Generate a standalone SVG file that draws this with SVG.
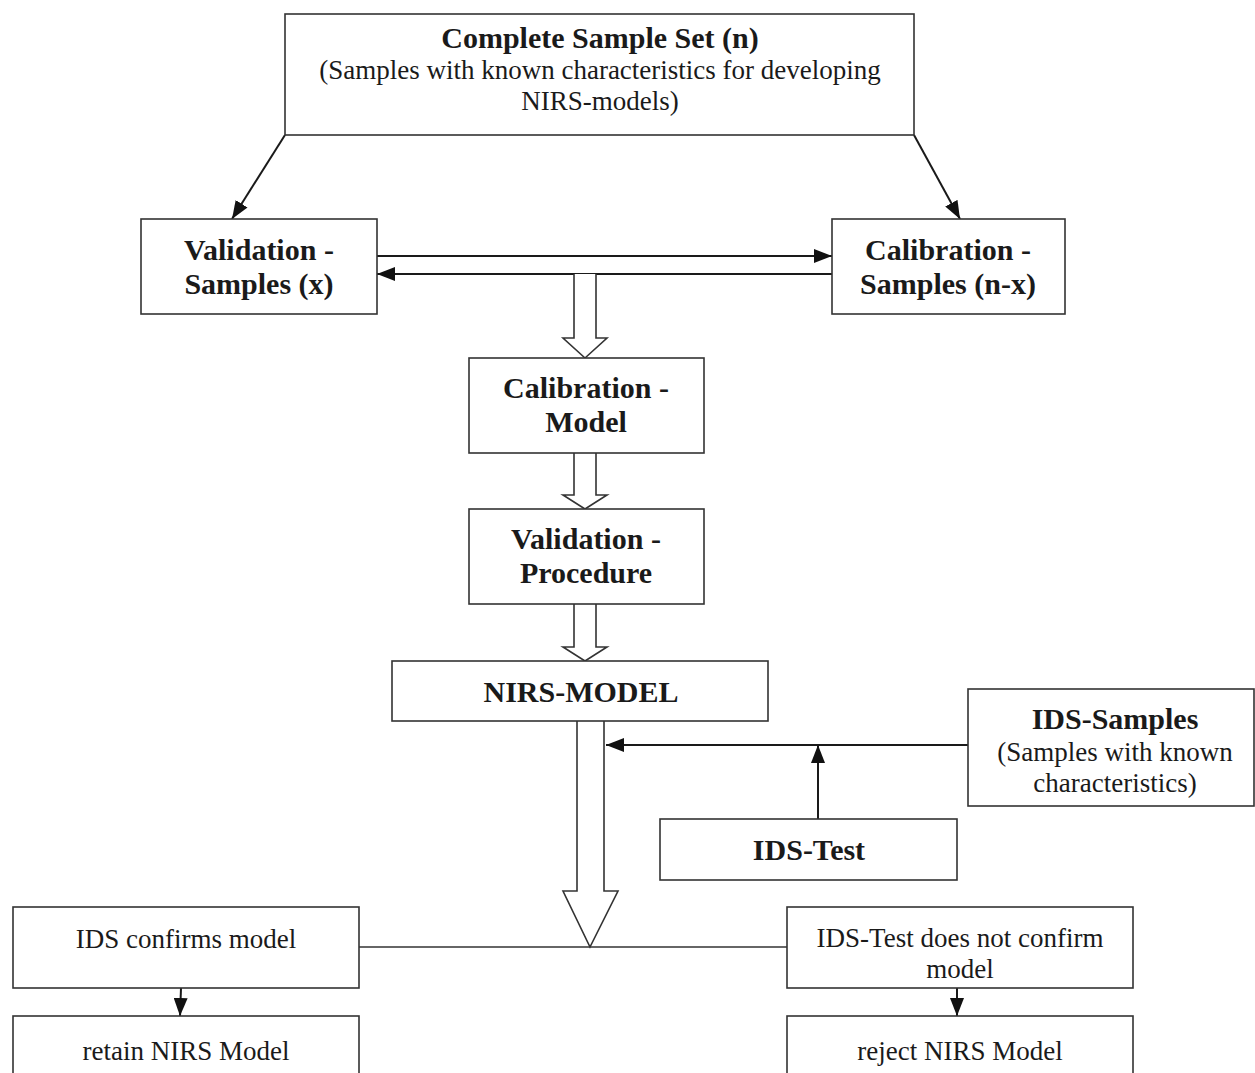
<svg xmlns="http://www.w3.org/2000/svg" width="1255" height="1073" viewBox="0 0 1255 1073">
<style>
.box{fill:#fff;stroke:#333;stroke-width:1.6}
.b{font-family:"Liberation Serif","Times New Roman",serif;font-weight:bold;font-size:30px;fill:#1a1a1a;text-anchor:middle}
.r{font-family:"Liberation Serif","Times New Roman",serif;font-size:27px;fill:#1a1a1a;text-anchor:middle}
.ln{stroke:#1a1a1a;stroke-width:2;fill:none}
.thin{stroke:#333;stroke-width:1.6;fill:none}
.hollow{fill:#fff;stroke:#333;stroke-width:1.6}
</style>
<defs>
<marker id="ah" viewBox="0 0 18 14" refX="18" refY="7" markerWidth="18" markerHeight="14" orient="auto" markerUnits="userSpaceOnUse">
<path d="M0,0 L18,7 L0,14 z" fill="#111"/>
</marker>
</defs>
<rect width="1255" height="1073" fill="#fff"/>
<g id="connectors">
<line class="ln" x1="285" y1="135" x2="232" y2="219" marker-end="url(#ah)"/>
<line class="ln" x1="914" y1="135" x2="960" y2="219" marker-end="url(#ah)"/>
<line class="ln" x1="377" y1="256" x2="832" y2="256" marker-end="url(#ah)"/>
<line class="ln" x1="832" y1="274" x2="377" y2="274" marker-end="url(#ah)"/>
<path class="hollow" d="M574,274 V338 H563 L585,358 L607,338 H596 V274"/>
<path class="hollow" d="M574,453 V495 H563 L585,509 L607,495 H596 V453"/>
<path class="hollow" d="M574,604 V647 H563 L585,661 L607,647 H596 V604"/>
<path class="hollow" d="M577,721 V891 H563 L590,947 L618,891 H604 V721"/>
<line class="ln" x1="968" y1="745" x2="606" y2="745" marker-end="url(#ah)"/>
<line class="ln" x1="818" y1="819" x2="818" y2="745" marker-end="url(#ah)"/>
<line class="thin" x1="359" y1="947" x2="787" y2="947"/>
<line class="ln" x1="181" y1="988" x2="180" y2="1016" marker-end="url(#ah)"/>
<line class="ln" x1="957" y1="988" x2="957" y2="1016" marker-end="url(#ah)"/>
</g>
<g id="complete-sample-set">
<rect class="box" x="285" y="14" width="629" height="121"/>
<text class="b" x="600" y="48">Complete Sample Set (n)</text>
<text class="r" x="600" y="79">(Samples with known characteristics for developing</text>
<text class="r" x="600" y="110">NIRS-models)</text>
</g>
<g id="validation-samples">
<rect class="box" x="141" y="219" width="236" height="95"/>
<text class="b" x="259" y="260">Validation -</text>
<text class="b" x="259" y="294">Samples (x)</text>
</g>
<g id="calibration-samples">
<rect class="box" x="832" y="219" width="233" height="95"/>
<text class="b" x="948" y="260">Calibration -</text>
<text class="b" x="948" y="294">Samples (n-x)</text>
</g>
<g id="calibration-model">
<rect class="box" x="469" y="358" width="235" height="95"/>
<text class="b" x="586" y="398">Calibration -</text>
<text class="b" x="586" y="432">Model</text>
</g>
<g id="validation-procedure">
<rect class="box" x="469" y="509" width="235" height="95"/>
<text class="b" x="586" y="549">Validation -</text>
<text class="b" x="586" y="583">Procedure</text>
</g>
<g id="nirs-model">
<rect class="box" x="392" y="661" width="376" height="60"/>
<text class="b" x="581" y="702">NIRS-MODEL</text>
</g>
<g id="ids-samples">
<rect class="box" x="968" y="689" width="286" height="117"/>
<text class="b" x="1115" y="729">IDS-Samples</text>
<text class="r" x="1115" y="761">(Samples with known</text>
<text class="r" x="1115" y="792">characteristics)</text>
</g>
<g id="ids-test">
<rect class="box" x="660" y="819" width="297" height="61"/>
<text class="b" x="809" y="860">IDS-Test</text>
</g>
<g id="ids-confirms">
<rect class="box" x="13" y="907" width="346" height="81"/>
<text class="r" x="186" y="948">IDS confirms model</text>
</g>
<g id="ids-not-confirm">
<rect class="box" x="787" y="907" width="346" height="81"/>
<text class="r" x="960" y="947">IDS-Test does not confirm</text>
<text class="r" x="960" y="978">model</text>
</g>
<g id="retain">
<rect class="box" x="13" y="1016" width="346" height="70"/>
<text class="r" x="186" y="1060">retain NIRS Model</text>
</g>
<g id="reject">
<rect class="box" x="787" y="1016" width="346" height="70"/>
<text class="r" x="960" y="1060">reject NIRS Model</text>
</g>
</svg>
